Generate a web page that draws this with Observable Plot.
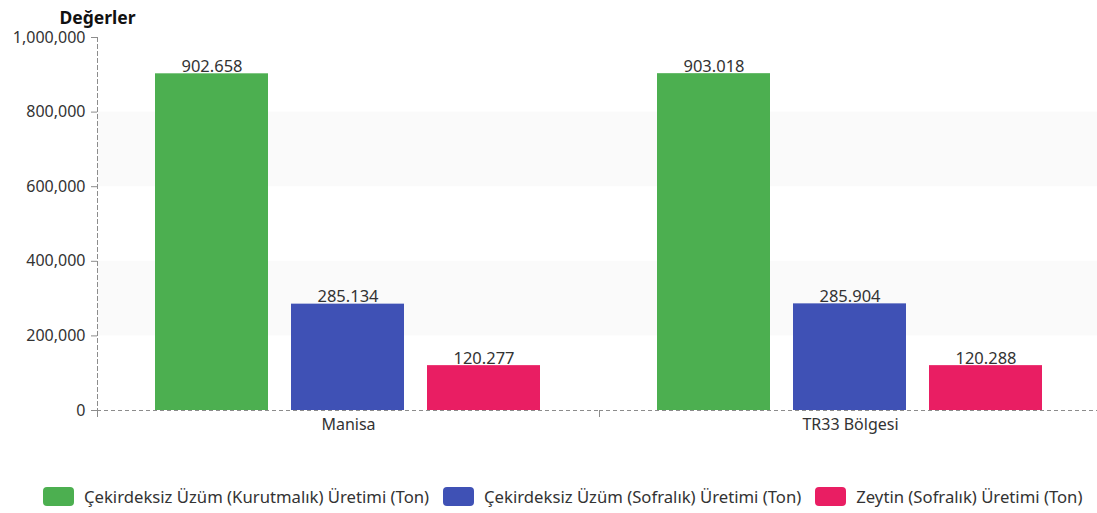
<!DOCTYPE html>
<html>
<head>
<meta charset="utf-8">
<script src="https://cdn.jsdelivr.net/npm/d3@7"></script>
<script src="https://cdn.jsdelivr.net/npm/@observablehq/plot@0.6"></script>
<style>
  html, body { margin: 0; padding: 0; background: #fff; }
  body { width: 1097px; height: 513px; overflow: hidden; font-family: "Noto Sans", sans-serif; }
  #legend { display: flex; align-items: center; margin-top: 35px; padding-left: 43px; font-size: 16.7px; color: #333; white-space: nowrap; }
  .item { display: flex; align-items: center; margin-right: 14px; }
  .sw { width: 31px; height: 19px; border-radius: 4px; margin-right: 10px; }
</style>
</head>
<body>
<div id="chart"></div>
<div id="legend"></div>
<script>
const regions = ["Manisa", "TR33 Bölgesi"];
const series = [
  "Çekirdeksiz Üzüm (Kurutmalık) Üretimi (Ton)",
  "Çekirdeksiz Üzüm (Sofralık) Üretimi (Ton)",
  "Zeytin (Sofralık) Üretimi (Ton)"
];
const manisaValues = [902658, 285134, 120277];
const tr33Values = [903018, 285904, 120288];
const yTicks = [0, 200000, 400000, 600000, 800000, 1000000];
const bands = [[200000, 400000], [600000, 800000]];
const colors = ["#4caf50", "#3f51b5", "#e91e63"];
const yTitle = "Değerler";

const data = [];
series.forEach((s, i) => {
  data.push({region: regions[0], series: s, value: manisaValues[i]});
  data.push({region: regions[1], series: s, value: tr33Values[i]});
});
const trFormat = d3.formatLocale({decimal: ",", thousands: ".", grouping: [3], currency: ["", ""]}).format(",");

const W = 1097, H = 450, mT = 37, mB = 40;
const frameH = H - mT - mB;
const axisColor = "#8c8c8c";

const chart = Plot.plot({
  width: W,
  height: H,
  marginLeft: 96,
  marginRight: -4,
  marginTop: mT,
  marginBottom: mB,
  style: {fontFamily: "'Noto Sans', sans-serif", fontSize: "16px", color: "#333", background: "#fff"},
  fx: {domain: regions, padding: 0, label: null},
  x: {domain: series, paddingInner: 0.169, paddingOuter: 0.42, axis: null},
  y: {domain: [0, 1000000], axis: null},
  color: {domain: series, range: colors},
  marks: [
    Plot.rectY(bands, {y1: d => d[0], y2: d => d[1], fill: "#fafafa"}),
    Plot.barY(data, {fx: "region", x: "series", y: "value", fill: "series"}),
    Plot.text(data, {fx: "region", x: "series", y: "value", text: d => trFormat(d.value), lineAnchor: "bottom", dy: -2, fill: "#333", fontSize: 16.5}),
    Plot.ruleY([0], {stroke: axisColor, strokeDasharray: "4,3"}),
    Plot.frame({anchor: "left", facetAnchor: "left", stroke: axisColor, strokeDasharray: "4,3"}),
    Plot.frame({anchor: "left", insetTop: frameH, insetBottom: -6, stroke: axisColor}),
    Plot.axisY({facetAnchor: "left", ticks: yTicks, tickFormat: d3.format(","), tickSize: 6, tickPadding: 6, stroke: axisColor, fill: "#333", label: null, fontSize: 16}),
    Plot.axisFx({anchor: "bottom", tickSize: 0, tickPadding: 8, label: null, fill: "#333", fontSize: 16}),
    Plot.text([{region: regions[0], t: yTitle}], {fx: "region", text: "t", frameAnchor: "top-left", dx: -38, dy: -26, textAnchor: "start", fontWeight: "bold", fontSize: 17.5, fill: "#111"})
  ]
});
document.getElementById("chart").appendChild(chart);

const legend = document.getElementById("legend");
series.forEach((s, i) => {
  const item = document.createElement("div");
  item.className = "item";
  const sw = document.createElement("span");
  sw.className = "sw";
  sw.style.background = colors[i];
  const lab = document.createElement("span");
  lab.textContent = s;
  item.appendChild(sw);
  item.appendChild(lab);
  legend.appendChild(item);
});
</script>
</body>
</html>
